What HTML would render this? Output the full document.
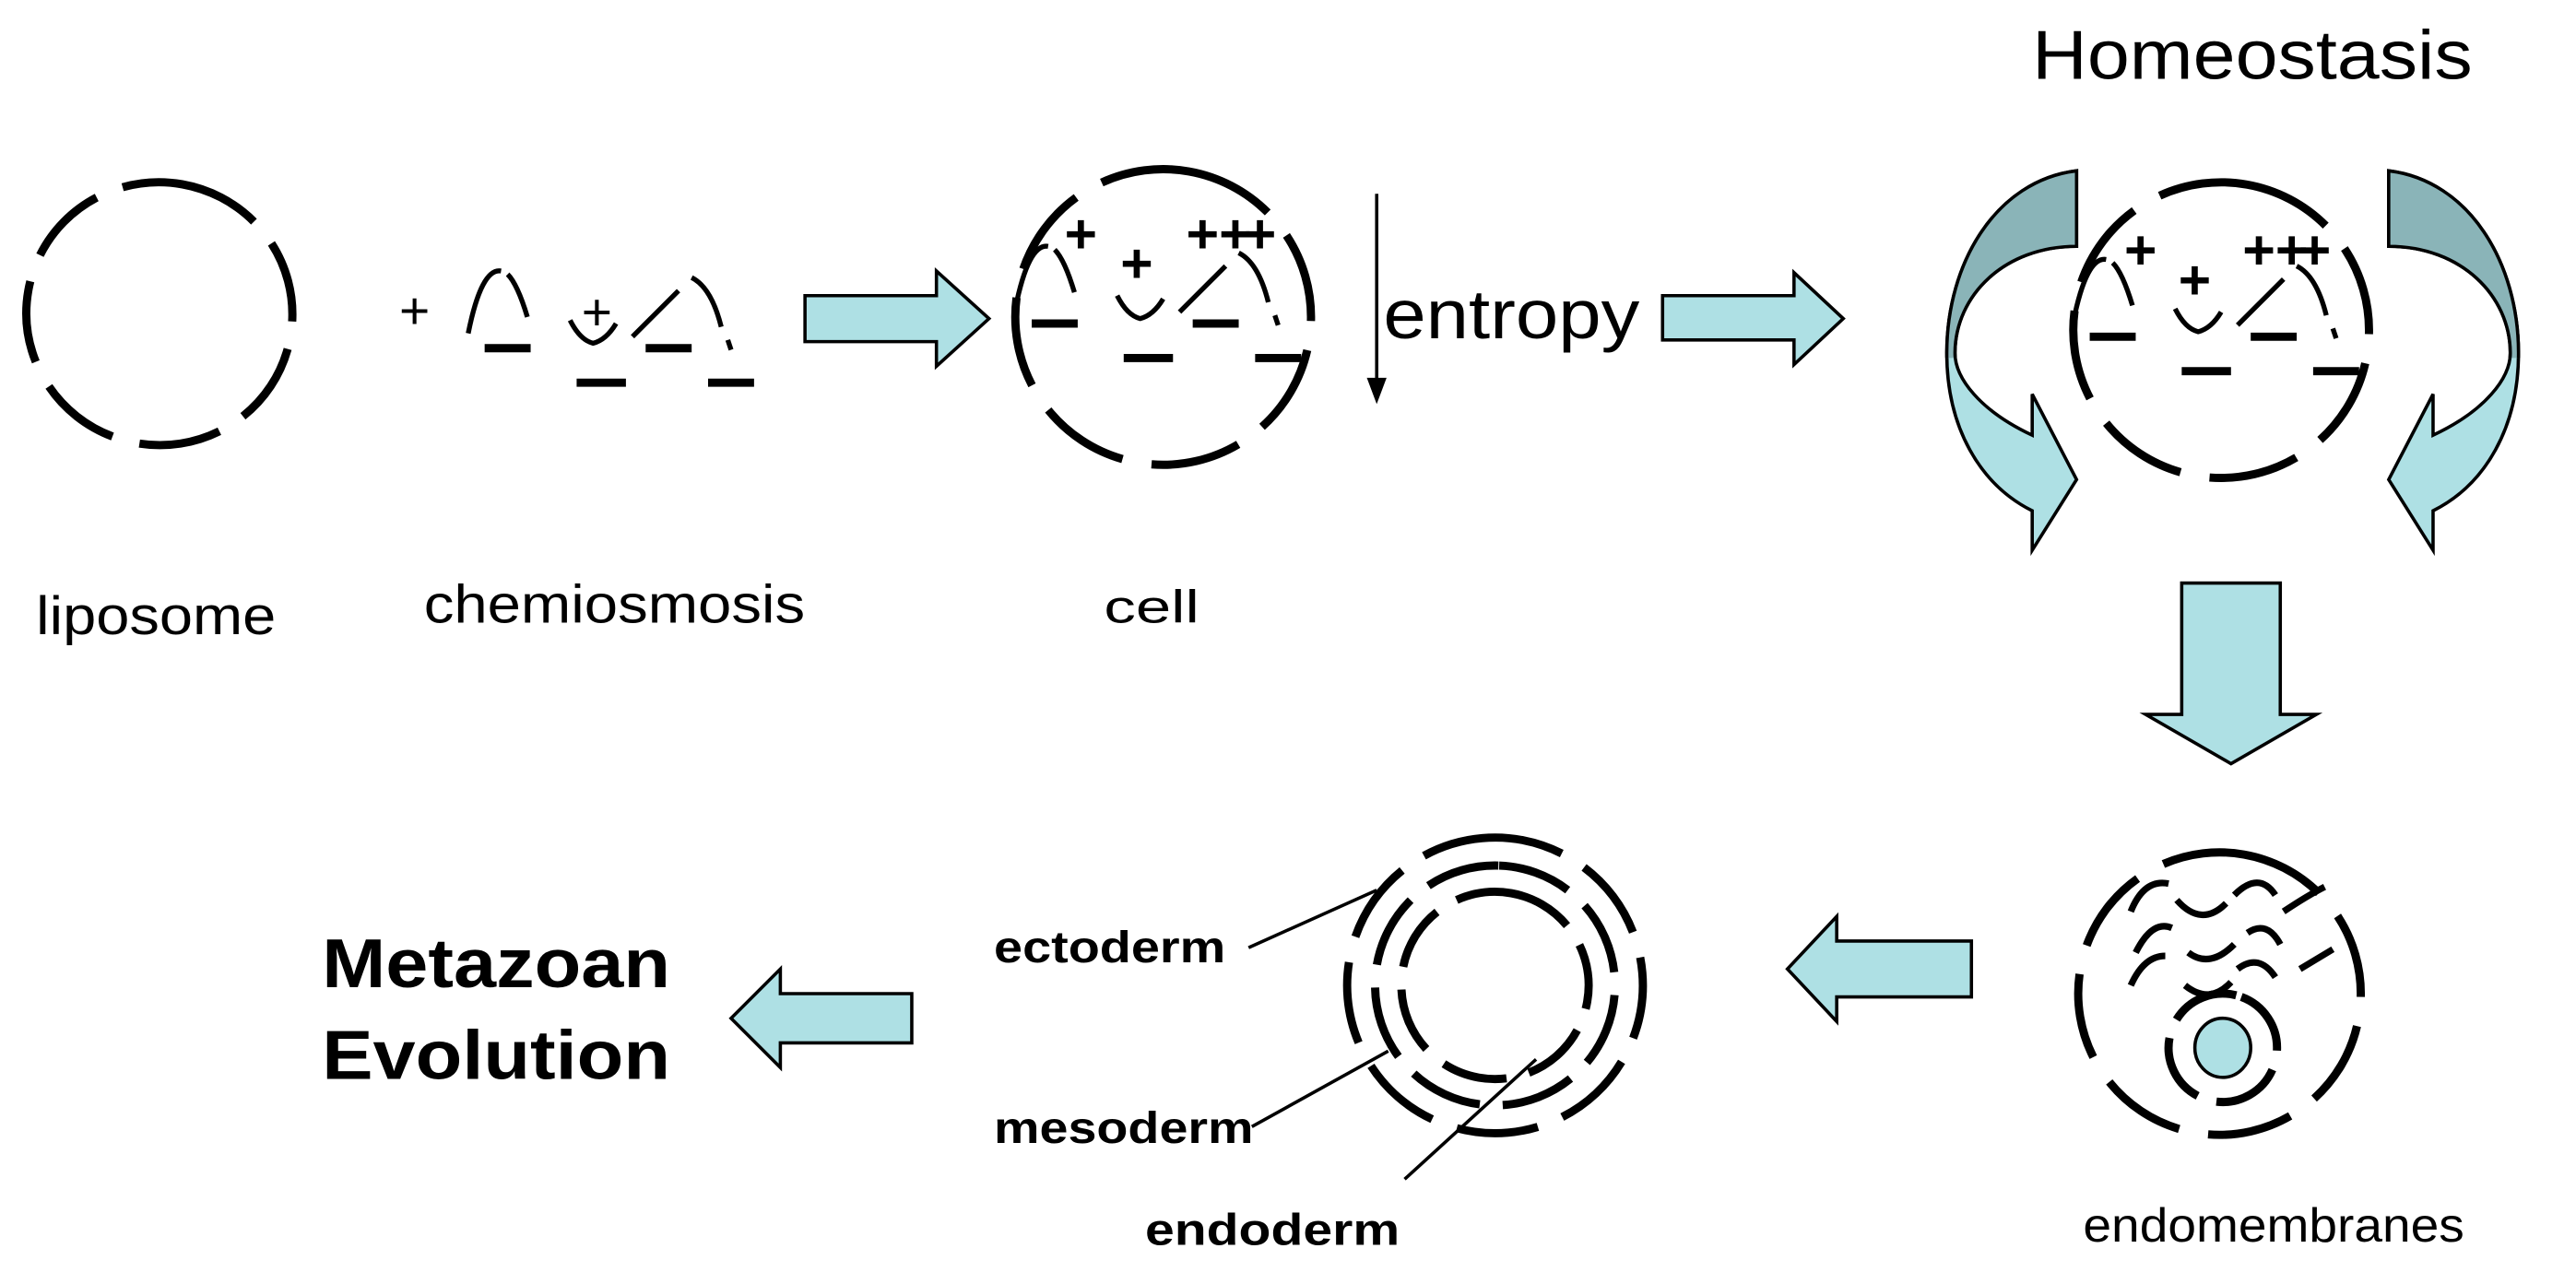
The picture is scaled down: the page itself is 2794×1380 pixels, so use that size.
<!DOCTYPE html>
<html><head><meta charset="utf-8"><style>
html,body{margin:0;padding:0;background:#fff;}
svg{display:block}
text{font-family:"Liberation Sans",sans-serif;fill:#000}
</style></head><body>
<svg width="2794" height="1380" viewBox="0 0 1568 774.5" preserveAspectRatio="none" xmlns="http://www.w3.org/2000/svg">
<defs>
<clipPath id="top"><rect x="1150" y="0" width="450" height="218"/></clipPath>
<g id="curl">
<path d="M1264,104 C1215,110 1185,160 1185,215 C1185,260 1205,295 1237,311 L1237,335 L1264,292 L1237,240 L1237,265 C1205,250 1190,230 1190,215 C1190,180 1220,150 1264,150 Z" fill="#aee0e4" stroke="#000" stroke-width="2"/>
<path d="M1264,104 C1215,110 1185,160 1185,215 C1185,260 1205,295 1237,311 L1237,335 L1264,292 L1237,240 L1237,265 C1205,250 1190,230 1190,215 C1190,180 1220,150 1264,150 Z" fill="#8ab4b8" stroke="#000" stroke-width="2" clip-path="url(#top)"/>
</g>
<g id="mem">
<path d="M0,40 Q8,0 20,2" fill="none" stroke="#000" stroke-width="3"/>
<path d="M24,4 Q30,10 36,30" fill="none" stroke="#000" stroke-width="3"/>
<path d="M62,32 Q68,44 76,46 Q84,44 90,34" fill="none" stroke="#000" stroke-width="3"/>
<path d="M100,42 L128,14" fill="none" stroke="#000" stroke-width="3"/>
<path d="M136,6 Q148,12 154,36" fill="none" stroke="#000" stroke-width="3"/>
<path d="M158,44 L160,50" fill="none" stroke="#000" stroke-width="3"/>
<line x1="10" y1="49" x2="38" y2="49" stroke="#000" stroke-width="5"/>
<line x1="108" y1="49" x2="136" y2="49" stroke="#000" stroke-width="5"/>
<line x1="66" y1="70" x2="96" y2="70" stroke="#000" stroke-width="5"/>
<line x1="146" y1="70" x2="174" y2="70" stroke="#000" stroke-width="5"/>
</g>
</defs>

<!-- liposome -->
<ellipse cx="97" cy="191" rx="80" ry="81" fill="none" stroke="#000" stroke-width="5" stroke-dasharray="50 17" transform="rotate(-80 97 191)"/>
<text x="22" y="386" font-size="33" textLength="146" lengthAdjust="spacingAndGlyphs">liposome</text>

<!-- chemiosmosis -->
<text x="243" y="200" font-size="32">+</text>
<use href="#mem" transform="translate(285,163)"/>
<text x="354" y="201" font-size="32">+</text>
<text x="258" y="379" font-size="33" textLength="232" lengthAdjust="spacingAndGlyphs">chemiosmosis</text>

<!-- arrow 1 -->
<path d="M490,180 L570,180 L570,165 L602,194 L570,223 L570,208 L490,208 Z" fill="#aee0e4" stroke="#000" stroke-width="2"/>

<!-- cell -->
<circle cx="708" cy="193" r="90" fill="none" stroke="#000" stroke-width="5" stroke-dasharray="55 18" transform="rotate(-80 708 193)"/>
<use href="#mem" transform="translate(618,148)"/>
<g font-size="34" font-weight="bold">
<text x="648" y="154">+</text>
<text x="682" y="172">+</text>
<text x="722" y="154" textLength="40" lengthAdjust="spacingAndGlyphs">++</text>
<text x="757" y="154">+</text>
</g>
<text x="672" y="379" font-size="28" textLength="58" lengthAdjust="spacingAndGlyphs">cell</text>

<!-- entropy -->
<line x1="838" y1="118" x2="838" y2="232" stroke="#000" stroke-width="2"/>
<path d="M832,230 L844,230 L838,246 Z" fill="#000"/>
<text x="842" y="206" font-size="42" textLength="156" lengthAdjust="spacingAndGlyphs">entropy</text>

<!-- arrow 2 -->
<path d="M1012,180 L1092,180 L1092,166 L1122,194 L1092,222 L1092,207 L1012,207 Z" fill="#aee0e4" stroke="#000" stroke-width="2"/>

<!-- homeostasis -->
<text x="1237" y="48" font-size="42" textLength="268" lengthAdjust="spacingAndGlyphs">Homeostasis</text>
<use href="#curl"/>
<use href="#curl" transform="translate(2718,0) scale(-1,1)"/>
<circle cx="1352" cy="201" r="90" fill="none" stroke="#000" stroke-width="5" stroke-dasharray="55 18" transform="rotate(-80 1352 201)"/>
<use href="#mem" transform="translate(1262,156)"/>
<g font-size="34" font-weight="bold">
<text x="1293" y="164">+</text>
<text x="1326" y="182">+</text>
<text x="1365" y="164" textLength="40" lengthAdjust="spacingAndGlyphs">++</text>
<text x="1399" y="164">+</text>
</g>

<!-- down arrow -->
<path d="M1328,355 L1388,355 L1388,435 L1410,435 L1358,465 L1306,435 L1328,435 Z" fill="#aee0e4" stroke="#000" stroke-width="2"/>

<!-- endomembranes -->
<circle cx="1351" cy="605" r="86" fill="none" stroke="#000" stroke-width="5" stroke-dasharray="52 18" transform="rotate(-80 1351 605)"/>
<g fill="none" stroke="#000" stroke-width="4">
<path d="M1297,555 Q1305,535 1320,538"/>
<path d="M1325,548 Q1340,565 1355,550"/>
<path d="M1360,545 Q1375,530 1385,545"/>
<path d="M1390,555 Q1405,545 1415,540"/>
<path d="M1300,580 Q1310,560 1322,565"/>
<path d="M1332,580 Q1345,590 1360,575"/>
<path d="M1368,568 Q1380,560 1388,575"/>
<path d="M1297,600 Q1305,582 1318,582"/>
<path d="M1330,600 Q1345,612 1358,598"/>
<path d="M1362,590 Q1375,580 1385,595"/>
<path d="M1400,590 L1420,578"/>
</g>
<circle cx="1353" cy="638" r="33" fill="none" stroke="#000" stroke-width="5" stroke-dasharray="42 12" transform="rotate(-70 1353 638)"/>
<ellipse cx="1353" cy="638" rx="17" ry="18" fill="#aee0e4" stroke="#000" stroke-width="2"/>
<text x="1268" y="756" font-size="29" textLength="232" lengthAdjust="spacingAndGlyphs">endomembranes</text>

<!-- left arrow 2 -->
<path d="M1200,573 L1118,573 L1118,558 L1088,590 L1118,622 L1118,607 L1200,607 Z" fill="#aee0e4" stroke="#000" stroke-width="2"/>

<!-- germ layers -->
<circle cx="910" cy="600" r="90" fill="none" stroke="#000" stroke-width="5" stroke-dasharray="50 16" transform="rotate(-95 910 600)"/>
<circle cx="910" cy="600" r="73" fill="none" stroke="#000" stroke-width="5" stroke-dasharray="45 14" transform="rotate(-88 910 600)"/>
<circle cx="910" cy="600" r="57" fill="none" stroke="#000" stroke-width="5" stroke-dasharray="40 14" transform="rotate(-80 910 600)"/>
<g stroke="#000" stroke-width="2">
<line x1="760" y1="577" x2="838" y2="542"/>
<line x1="762" y1="686" x2="845" y2="640"/>
<line x1="855" y1="718" x2="935" y2="645"/>
</g>
<text x="605" y="586" font-size="27" font-weight="bold" textLength="141" lengthAdjust="spacingAndGlyphs">ectoderm</text>
<text x="605" y="696" font-size="27" font-weight="bold" textLength="158" lengthAdjust="spacingAndGlyphs">mesoderm</text>
<text x="697" y="758" font-size="27" font-weight="bold" textLength="155" lengthAdjust="spacingAndGlyphs">endoderm</text>

<!-- left arrow 3 -->
<path d="M555,605 L475,605 L475,590 L445,620 L475,650 L475,635 L555,635 Z" fill="#aee0e4" stroke="#000" stroke-width="2"/>

<text x="196" y="601" font-size="42" font-weight="bold" textLength="212" lengthAdjust="spacingAndGlyphs">Metazoan</text>
<text x="196" y="657" font-size="42" font-weight="bold" textLength="212" lengthAdjust="spacingAndGlyphs">Evolution</text>
</svg>
</body></html>
